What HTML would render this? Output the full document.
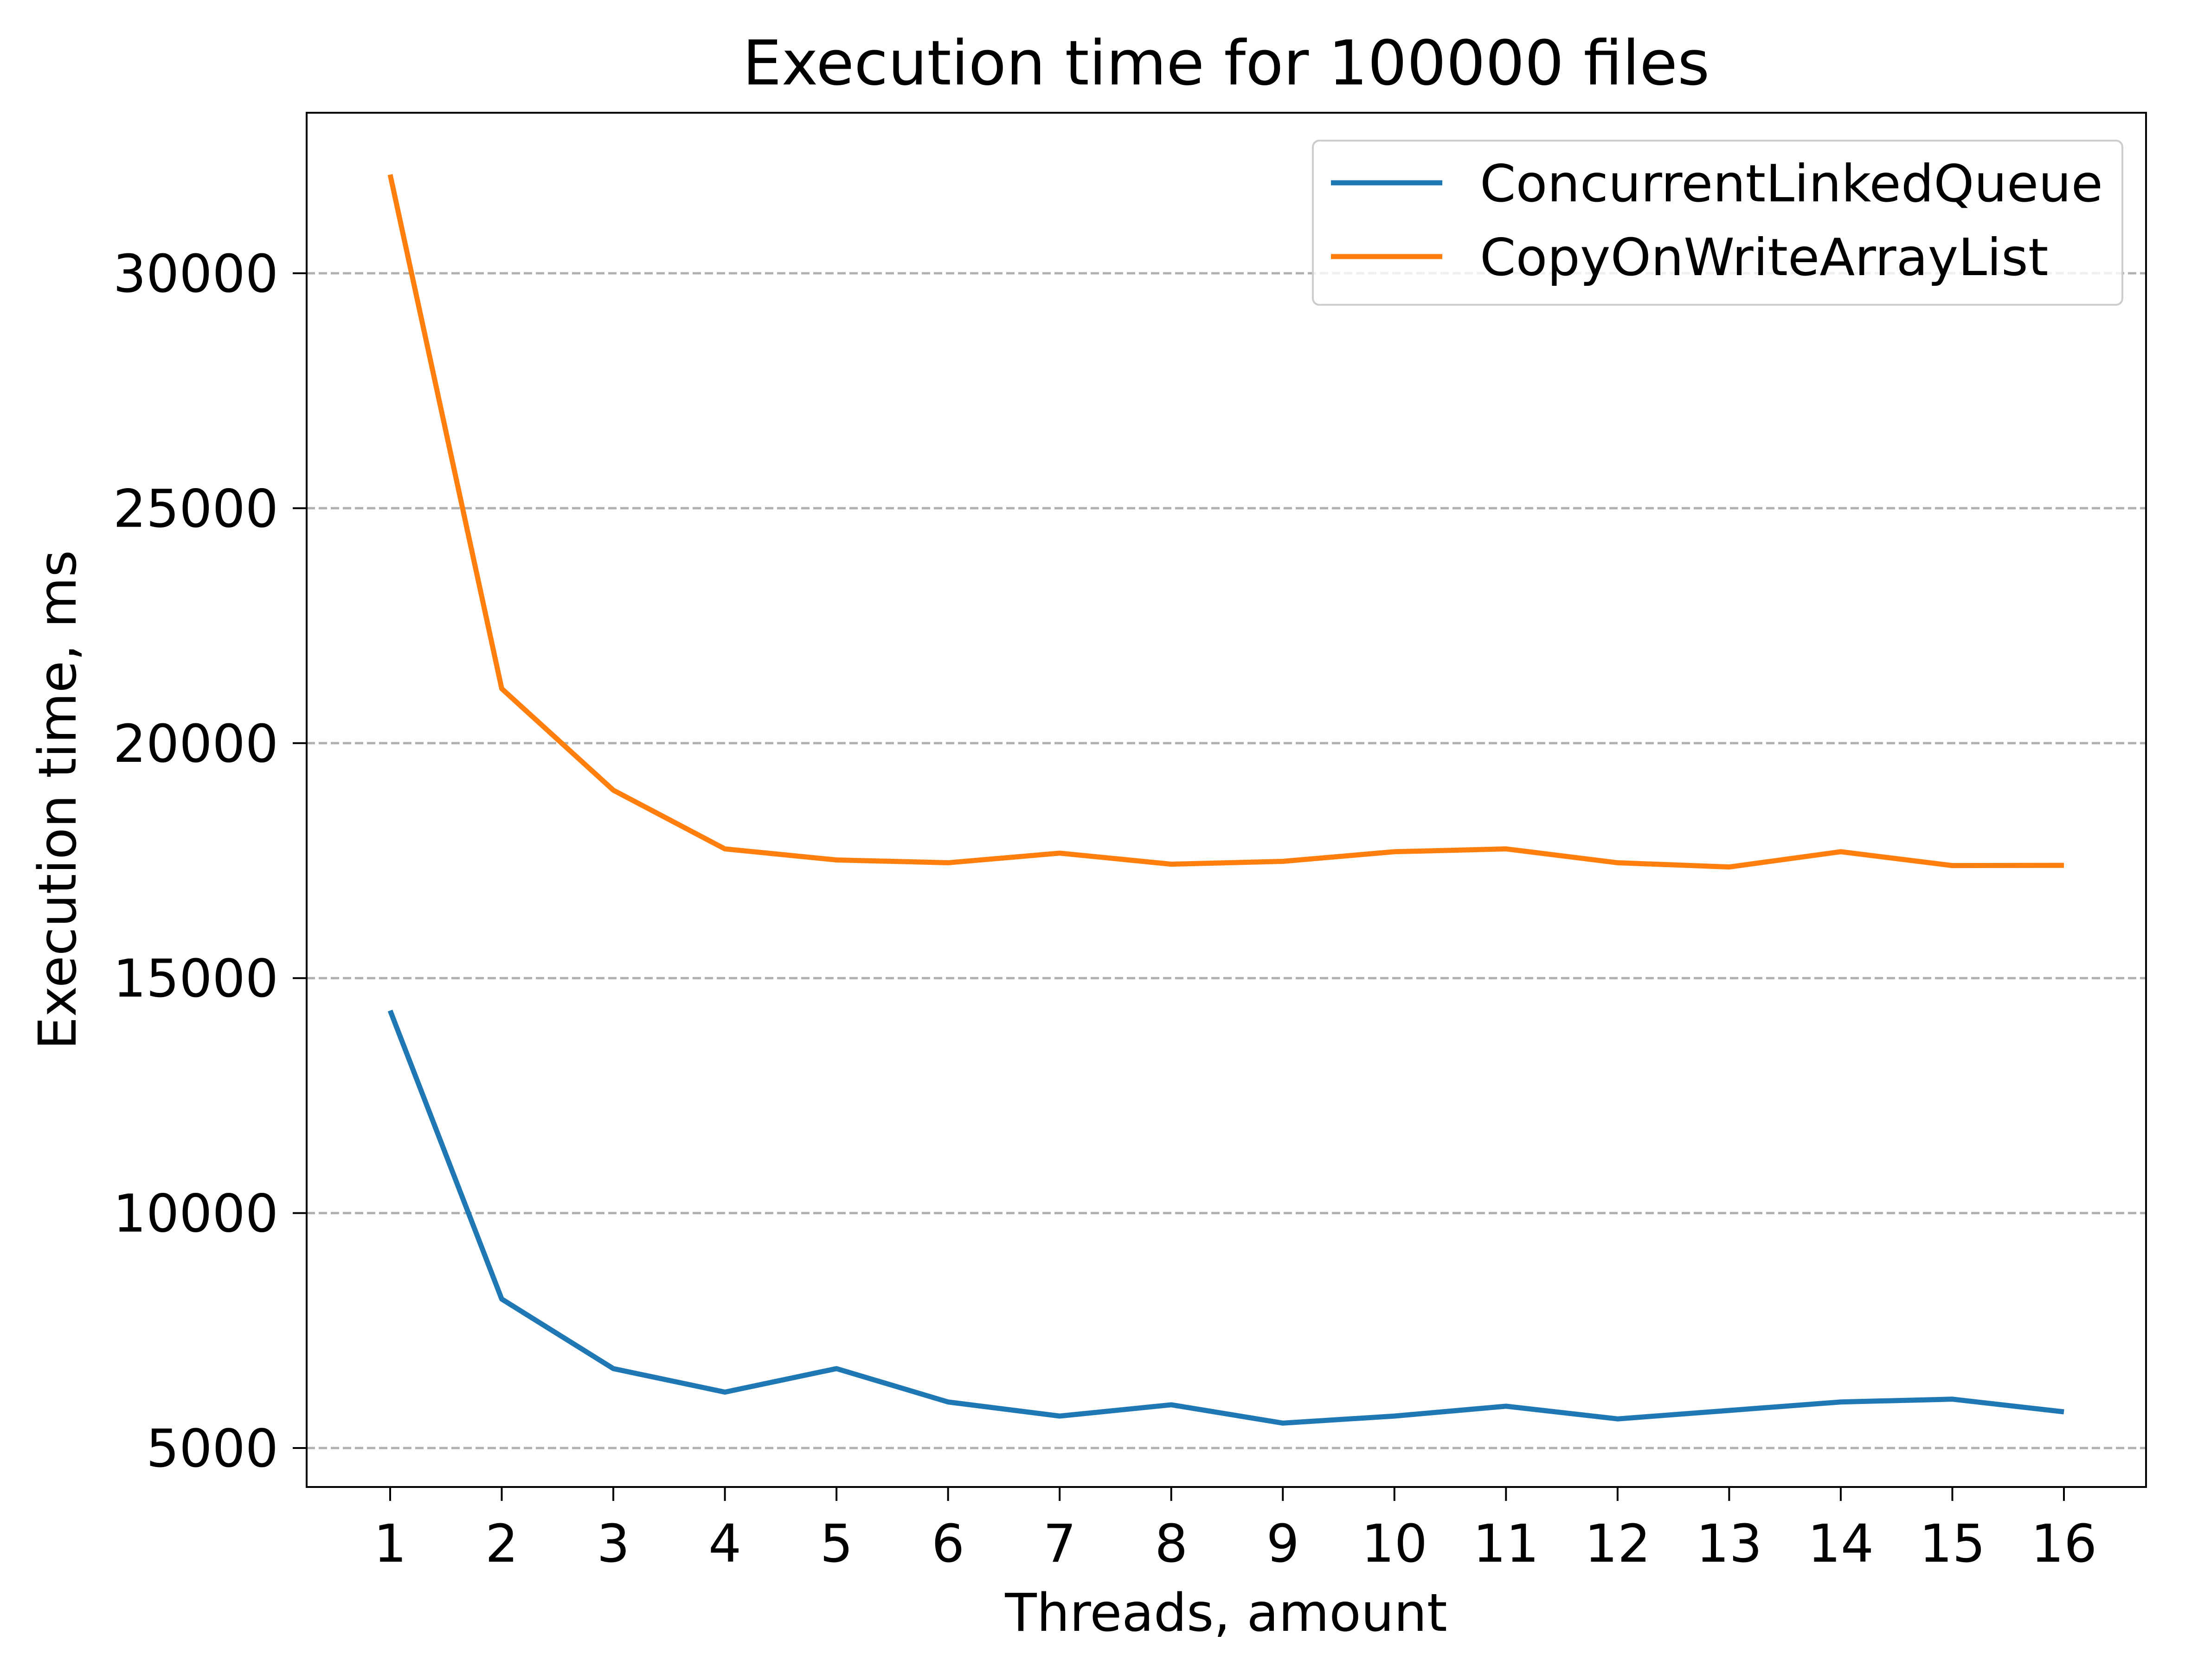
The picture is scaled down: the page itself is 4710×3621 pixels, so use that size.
<!DOCTYPE html>
<html><head><meta charset="utf-8"><style>
html,body{margin:0;padding:0;background:#fff}
svg{display:block;font-family:"DejaVu Sans","Liberation Sans",sans-serif}
</style></head><body>
<svg id="chart" width="4710" height="3621" viewBox="0 0 4710 3621" xmlns="http://www.w3.org/2000/svg">
<rect width="4710" height="3621" fill="#fff"/>
<g id="grid"></g>
<g id="series"></g>
<rect x="661" y="243" width="3965" height="2962" fill="none" stroke="#000" stroke-width="4"/>
<g id="ticks"></g>
<text x="2643" y="182" font-size="133" text-anchor="middle">Execution time for 100000 files</text>
<text x="2643" y="3515" font-size="112" text-anchor="middle">Threads, amount</text>
<text x="0" y="0" font-size="112" text-anchor="middle" transform="translate(163,1724) rotate(-90)">Execution time, ms</text>
<g>
<rect x="2830" y="303" width="1745" height="354" rx="14" fill="#fff" fill-opacity="0.8" stroke="#ccc" stroke-width="4"/>
<line x1="2869" y1="394" x2="3109" y2="394" stroke="#1f77b4" stroke-width="11"/>
<text x="3190" y="434" font-size="111">ConcurrentLinkedQueue</text>
<line x1="2869" y1="553" x2="3109" y2="553" stroke="#ff7f0e" stroke-width="11"/>
<text x="3190" y="593" font-size="111">CopyOnWriteArrayList</text>
</g>
</svg>
<script>
const threads=[1,2,3,4,5,6,7,8,9,10,11,12,13,14,15,16];
const clq=[14310,8170,6690,6190,6690,5980,5680,5920,5530,5680,5890,5620,5800,5980,6040,5770];
const cowal=[32100,21160,19000,17750,17515,17455,17660,17425,17485,17690,17750,17455,17365,17690,17395,17400];
const yTicks=[5000,10000,15000,20000,25000,30000];
const NS="http://www.w3.org/2000/svg";
const x=v=>841+(v-1)*(4449-841)/15;
const y=v=>3121-(v-5000)*(3121-589)/25000;
function mk(t,a,p){const e=document.createElementNS(NS,t);for(const k in a)e.setAttribute(k,a[k]);p.appendChild(e);return e;}
const grid=document.getElementById('grid'),ticks=document.getElementById('ticks'),ser=document.getElementById('series');
yTicks.forEach(v=>{
 const g=mk('line',{x1:661,x2:4626,y1:y(v),y2:y(v),stroke:'#b0b0b0','stroke-width':5,'stroke-dasharray':'18,8'},grid);
 
 
 const t=mk('line',{x1:631,x2:661,y1:y(v),y2:y(v),stroke:'#000','stroke-width':4},ticks);
 
 
 const l=mk('text',{x:600,y:y(v)+40,'font-size':112,'text-anchor':'end'},ticks);
 l.textContent=v;
 
 
});
threads.forEach(v=>{
 const t=mk('line',{x1:x(v),x2:x(v),y1:3205,y2:3235,stroke:'#000','stroke-width':4},ticks);
 
 
 const l=mk('text',{x:x(v),y:3366,'font-size':112,'text-anchor':'middle'},ticks);
 l.textContent=v;
 
 
});
[[clq,'#1f77b4','line-concurrentlinkedqueue'],[cowal,'#ff7f0e','line-copyonwritearraylist']].forEach(([d,c,n])=>{
 const p=mk('polyline',{points:d.map((v,i)=>x(threads[i])+','+y(v)).join(' '),fill:'none',stroke:c,'stroke-width':11,'stroke-linejoin':'round'},ser);
 
 
});
</script>
</body></html>
